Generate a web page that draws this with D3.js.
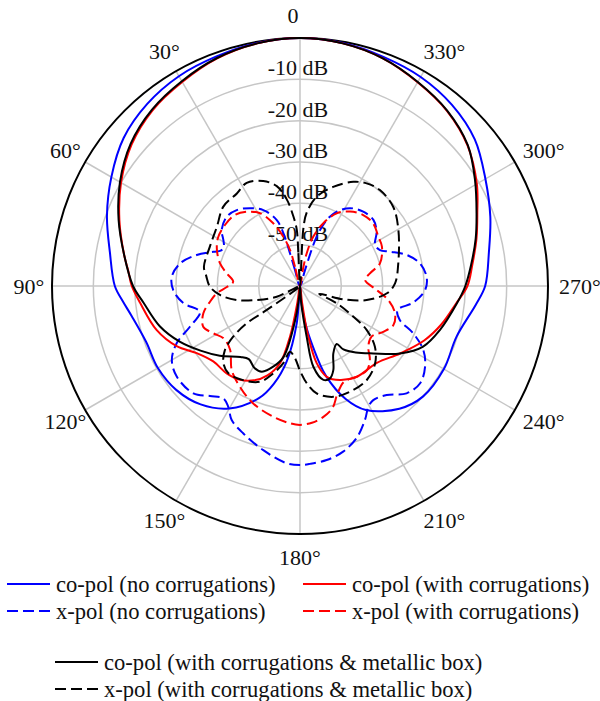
<!DOCTYPE html>
<html>
<head>
<meta charset="utf-8">
<script src="https://cdn.jsdelivr.net/npm/d3@7"></script>
<style>
  body { margin: 0; background: #fff; }
  text { font-family: "Liberation Serif", "Times New Roman", serif; fill: #111; }
</style>
</head>
<body>
<svg id="chart" width="600" height="701"></svg>
<script>
// Radial axis (dB) and angular axis (degrees, counter-clockwise from the top)
const dbRings = [-50, -40, -30, -20, -10];
const dbRingLabels = ["-50 dB", "-40 dB", "-30 dB", "-20 dB", "-10 dB"];
const angleTicks = [0, 30, 60, 90, 120, 150, 180, 210, 240, 270, 300, 330];
const angleTickLabels = ["0", "30°", "60°", "90°", "120°", "150°", "180°", "210°", "240°", "270°", "300°", "330°"];

// co-pol, no corrugations
const coNoCorrDeg = [0,10,20,30,40,50,60,70,80,90,95,100,110,120,130,140,150,160,165,170,175,180,184,188,192,196,202,208,219,228,240,252,264,270,280,290,300,310,320,330,340,350];
const coNoCorrDb  = [0,-0.3,-0.9,-1.4,-2.5,-4.3,-7.3,-10.3,-13.3,-15.2,-17,-18.6,-20.4,-20.3,-20.9,-22.6,-25.8,-31.2,-35.5,-41.5,-51,-60,-57,-51,-45,-37.5,-30.5,-26,-21.8,-20,-19.8,-20.2,-17.2,-15.2,-13.6,-11,-8.2,-4.8,-2.8,-1.6,-1,-0.3];

// x-pol, no corrugations
const xNoCorrDeg = [0,17.4,17,17.2,19.4,25.8,32.8,39.8,46.6,54.4,59.1,63,66,68.4,73.3,79.3,85.9,91.8,98.4,104.5,110.3,114.9,120,126.3,135.2,140.7,145.7,149.3,153,158.9,167.4,175.7,180,
  183.2,188.7,194.6,200.5,205.9,209.5,212.7,218.5,224.8,231,237.2,242.6,247.3,251.2,256.2,261.7,268.2,274.2,280.7,286.2,290.9,294.2,298.7,305.3,312,319.6,327.2,333.7,338,341.3,342.6];
const xNoCorrDb  = [-60,-56,-51.7,-47.5,-43.1,-39.6,-37.6,-36.1,-35.6,-36.7,-38.4,-39.3,-39,-37.5,-33.9,-30.5,-28.9,-29.3,-31.5,-35,-31.6,-27.1,-24.2,-23,-23.4,-25.6,-27.1,-26,-23.6,-21.8,-19.3,-17,-16.7,
  -16.9,-17.4,-18.6,-20.8,-24,-26.4,-27.2,-26.3,-23.4,-22.6,-24,-26.4,-30.3,-34.5,-35.7,-32.3,-29.7,-29.3,-30.5,-33.1,-36.7,-38.8,-39.3,-37.3,-36.1,-36.4,-37.6,-39.9,-42.8,-47.4,-55.9];

// co-pol, with corrugations
const coCorrDeg = [0,10,20,30,40,50,60,70,80,85,90,96,107,116,123,131,140,147,154,160,165.5,168.8,171,180,187,189.3,192.2,196.4,203,212,225,236,246.3,255,263.6,270,277,285,292.4,300,310,320,330,340,350];
const coCorrDb  = [0,-0.4,-1.4,-3,-4.5,-6.8,-10,-13.5,-16.8,-18.3,-19.3,-21.1,-23.7,-26.8,-30.2,-32.2,-32.4,-33,-34.6,-37,-40.7,-47.5,-56,-60,-56,-47.6,-40.9,-37.1,-35.3,-34.1,-33.7,-30.8,-27.2,-24.5,-22,-19.5,-18,-15.8,-13.6,-10.6,-7.1,-4.7,-3.1,-1.4,-0.4];

// x-pol, with corrugations
const xCorrDeg = [0,14.5,15.5,18.7,23.1,28.8,35.7,42.5,50.9,59.7,66.6,74.2,80.2,86.3,90.8,95,99.9,105.8,112.8,118.6,124.3,132.4,140.9,149.2,158.3,168.5,175.8,180,
  185,190,195,199,204.7,212,218.5,223.4,228.4,234.7,241.2,247.3,254,261,267,275.3,280.3,285.8,295.7,302.2,310.5,318.3,326.1,333.2,339.6,344.9,348.4,350];
const xCorrDb  = [-60,-55.2,-51,-47.4,-43.5,-39.9,-37.9,-36.7,-36.6,-37,-38.1,-39.9,-42,-43.8,-42.3,-39.8,-37.9,-35.7,-34.6,-36.1,-37.6,-37.1,-33.8,-31.6,-29.4,-27.7,-26.7,-26.4,
  -26.8,-27.8,-29.5,-32.3,-34.5,-34.1,-34,-35.4,-37.9,-38.8,-37,-35.5,-36.1,-38.4,-41.4,-44.2,-42.8,-39.9,-38,-37.6,-36.7,-37,-38.3,-40.3,-43.8,-47.6,-51.9,-56];

// co-pol, with corrugations & metallic box
const coBoxDeg = [0,10,20,30,40,50,60,70,80,90,96,106,115,123,131,140,145,151,156,162,167,172,176,180,184,187.5,189.4,194,198,201.6,206.3,212.3,214.4,220,227.4,236,243.8,252.6,263.7,270,277,285,292.4,301.2,310,320,330,340,350];
const coBoxDb  = [0,-0.4,-1.3,-2.8,-4.3,-6.5,-9.7,-13.3,-16.8,-19.6,-21.9,-24.7,-28,-31.3,-34.3,-37.6,-38.4,-37.3,-37.3,-39.6,-42.4,-51.7,-58,-60,-56,-47.6,-40.2,-36.6,-36.5,-38.1,-41.8,-43.4,-41.4,-39,-35.9,-30.8,-26.8,-24.5,-21.8,-20,-18.3,-16,-13.8,-10.5,-7,-4.6,-3,-1.4,-0.4];

// x-pol, with corrugations & metallic box
const xBoxDeg = [0,2.9,3.3,5.5,8.7,13.1,19.3,27.3,34.3,44,54.5,66.4,78.7,84,90.4,96.4,102.5,107.9,114.7,120,125.8,125,127.2,130.5,135.2,140.6,148.9,157.3,163,167.8,171.3,176,180,
  184,188.8,196.7,205.3,215.4,224.1,231,236.6,240.1,244.8,248,252.9,258.1,265.2,271.6,283,299.7,310.4,320.2,327,332.9,341.5,349.4,354.8,356.7];
const xBoxDb  = [-60,-51.9,-46.3,-43,-38.8,-35.2,-33.1,-31.9,-32.9,-33.3,-35.3,-36.2,-36.3,-37.2,-38.2,-40.5,-44.3,-49,-53.8,-60,-50.1,-44.3,-39.7,-36.1,-33.7,-32.7,-33.4,-34.9,-37.9,-40.9,-43.9,-42.5,-39.5,
  -36.4,-33.7,-32,-31.7,-32.1,-33.9,-36.7,-40.7,-45.1,-50.2,-55,-49,-43.5,-38.9,-37,-35.6,-32.6,-30.4,-29.8,-30.4,-31.7,-34.7,-38,-42.2,-46.3];

const seriesNames = [
  "co-pol (no corrugations)", "x-pol (no corrugations)",
  "co-pol (with corrugations)", "x-pol (with corrugations)",
  "co-pol (with corrugations & metallic box)", "x-pol (with corrugations & metallic box)"
];

const series = [
  { name: seriesNames[0], deg: coNoCorrDeg, db: coNoCorrDb, color: "#0000ff", dashed: false },
  { name: seriesNames[1], deg: xNoCorrDeg,  db: xNoCorrDb,  color: "#0000ff", dashed: true },
  { name: seriesNames[2], deg: coCorrDeg,   db: coCorrDb,   color: "#ff0000", dashed: false },
  { name: seriesNames[3], deg: xCorrDeg,    db: xCorrDb,    color: "#ff0000", dashed: true },
  { name: seriesNames[4], deg: coBoxDeg,    db: coBoxDb,    color: "#000000", dashed: false },
  { name: seriesNames[5], deg: xBoxDeg,     db: xBoxDb,     color: "#000000", dashed: true }
];

const svg = d3.select("#chart");
const cx = 300, cy = 286, R = 248;
const g = svg.append("g").attr("transform", `translate(${cx},${cy})`);

const r = d3.scaleLinear().domain([-60, 0]).range([0, R]).clamp(true);
const rad = d => d * Math.PI / 180;

// grid rings
g.selectAll("circle.ring").data(dbRings).join("circle")
  .attr("class", "ring")
  .attr("r", d => r(d))
  .attr("fill", "none").attr("stroke", "#c6c6c6").attr("stroke-width", 1.5);

// spokes
g.selectAll("line.spoke").data(angleTicks).join("line")
  .attr("class", "spoke")
  .attr("x1", 0).attr("y1", 0)
  .attr("x2", d => -R * Math.sin(rad(d)))
  .attr("y2", d => -R * Math.cos(rad(d)))
  .attr("stroke", "#c6c6c6").attr("stroke-width", 1.5);

// ring labels along the top spoke
g.selectAll("text.dbl").data(dbRings).join("text")
  .attr("class", "dbl")
  .attr("x", -2)
  .attr("y", d => -r(d) - 4)
  .attr("text-anchor", "middle")
  .attr("font-size", 22)
  .text((d, i) => dbRingLabels[i]);

// outer boundary
g.append("circle").attr("r", r(0)).attr("fill", "none").attr("stroke", "#000").attr("stroke-width", 2);

// angle labels (right-hand labels sit slightly further out)
const labelR = 271;
g.selectAll("text.ang").data(angleTicks).join("text")
  .attr("class", "ang")
  .attr("x", d => -labelR * Math.sin(rad(d)))
  .attr("y", d => -labelR * Math.cos(rad(d)))
  .attr("dx", d => d === 0 ? -7 : (d > 180 ? 9 : 0))
  .attr("dy", "0.35em")
  .attr("text-anchor", "middle")
  .attr("font-size", 22)
  .text((d, i) => angleTickLabels[i]);

// pattern curves
const radial = d3.lineRadial()
  .angle(p => -rad(p[0]))
  .radius(p => r(p[1]))
  .curve(d3.curveCatmullRomClosed.alpha(0.5));

g.selectAll("path.trace").data(series).join("path")
  .attr("class", "trace")
  .attr("d", s => radial(s.deg.map((d, i) => [d, s.db[i]])))
  .attr("fill", "none")
  .attr("stroke", s => s.color)
  .attr("stroke-width", 2)
  .attr("stroke-dasharray", s => s.dashed ? "11,5" : null);

// legend
const legendPos = [
  { x: 7, y: 584 }, { x: 7, y: 611 },
  { x: 303, y: 584 }, { x: 303, y: 611 },
  { x: 55, y: 662 }, { x: 55, y: 689 }
];
const leg = svg.append("g");
series.forEach((s, i) => {
  const p = legendPos[i];
  leg.append("line")
    .attr("x1", p.x).attr("x2", p.x + 43)
    .attr("y1", p.y).attr("y2", p.y)
    .attr("stroke", s.color).attr("stroke-width", 2)
    .attr("stroke-dasharray", s.dashed ? "11,5" : null);
  leg.append("text")
    .attr("x", p.x + 49).attr("y", p.y)
    .attr("dy", "0.35em")
    .attr("font-size", 22.6)
    .text(s.name);
});
</script>
</body>
</html>
